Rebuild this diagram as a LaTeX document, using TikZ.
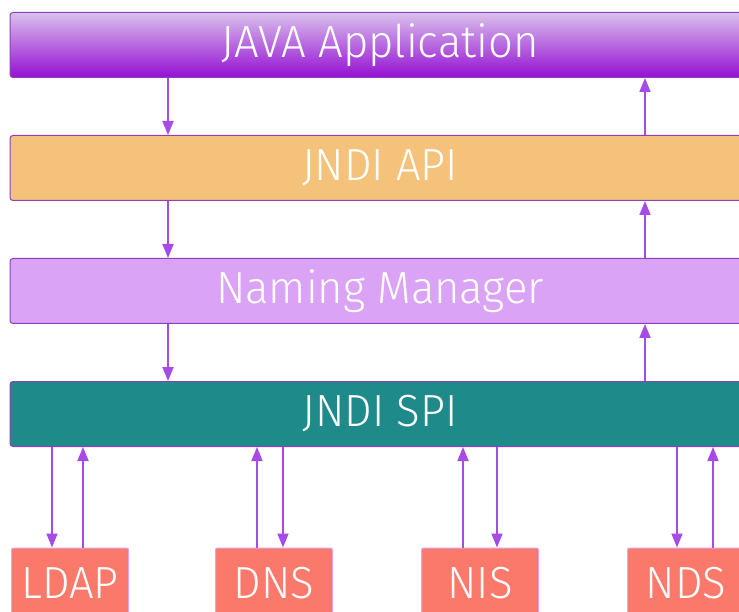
\documentclass[tikz,border=0pt]{standalone}
\usepackage{fontspec}
\setmainfont{Fira Sans Light}[FakeStretch=0.97]
\usetikzlibrary{arrows.meta,positioning}

\definecolor{arrowpurple}{HTML}{A64BE8}
\definecolor{edgepurple}{HTML}{8E3FC0}
\definecolor{apptop}{HTML}{D9C0EC}
\definecolor{appbottom}{HTML}{950FD3}
\definecolor{apiorange}{HTML}{F4C27B}
\definecolor{mgrlilac}{HTML}{DBA3F5}
\definecolor{spiteal}{HTML}{1F8A8A}
\definecolor{srvsalmon}{HTML}{FA796A}

\begin{document}
\begin{tikzpicture}[
		x=1pt, y=-1pt,
		node distance=57pt,
		layer/.style={draw=edgepurple, line width=1pt, rounded corners=3pt, minimum height=65pt, minimum width=740pt, text=white, font=\fontsize{45}{50}\selectfont, inner sep=0pt},
		service/.style={draw=mgrlilac, line width=1pt, rounded corners=2pt, fill=srvsalmon, minimum height=70pt, minimum width=117pt, text=white, font=\fontsize{45}{50}\selectfont, inner sep=0pt},
		flow/.style={draw=arrowpurple, line width=1.8pt, -{Triangle[length=14pt,width=11pt]}}
	]
		\useasboundingbox (0,0) rectangle (739,612);
		\clip (0,0) rectangle (739,612);

		\node[layer, top color=apptop, bottom color=appbottom] (java) at (380,45) {JAVA Application};
		\node[layer, fill=apiorange, below=of java] (api) {JNDI API};
		\node[layer, fill=mgrlilac, below=of api] (mgr) {Naming Manager};
		\node[layer, fill=spiteal, below=of mgr] (spi) {JNDI SPI};

		\node[service] (ldap) at (70,583) {LDAP};
		\node[service] (dns) at (274,583) {DNS};
		\node[service] (nis) at (480,583) {NIS};
		\node[service] (nds) at (686,583) {NDS};

		% columns of the arrows
		\coordinate (down) at (168,0);
		\coordinate (up) at (645,0);

		\draw[flow] (java.south -| down) -- (api.north -| down);
		\draw[flow] (api.south -| down) -- (mgr.north -| down);
		\draw[flow] (mgr.south -| down) -- (spi.north -| down);
		\draw[flow] (spi.north -| up) -- (mgr.south -| up);
		\draw[flow] (mgr.north -| up) -- (api.south -| up);
		\draw[flow] (api.north -| up) -- (java.south -| up);

		\draw[flow] (spi.south -| 52,0) -- (ldap.north -| 52,0);
		\draw[flow] (ldap.north -| 83,0) -- (spi.south -| 83,0);
		\draw[flow] (dns.north -| 257,0) -- (spi.south -| 257,0);
		\draw[flow] (spi.south -| 283,0) -- (dns.north -| 283,0);
		\draw[flow] (nis.north -| 463,0) -- (spi.south -| 463,0);
		\draw[flow] (spi.south -| 497,0) -- (nis.north -| 497,0);
		\draw[flow] (spi.south -| 677,0) -- (nds.north -| 677,0);
		\draw[flow] (nds.north -| 713,0) -- (spi.south -| 713,0);
	\end{tikzpicture}
\end{document}
